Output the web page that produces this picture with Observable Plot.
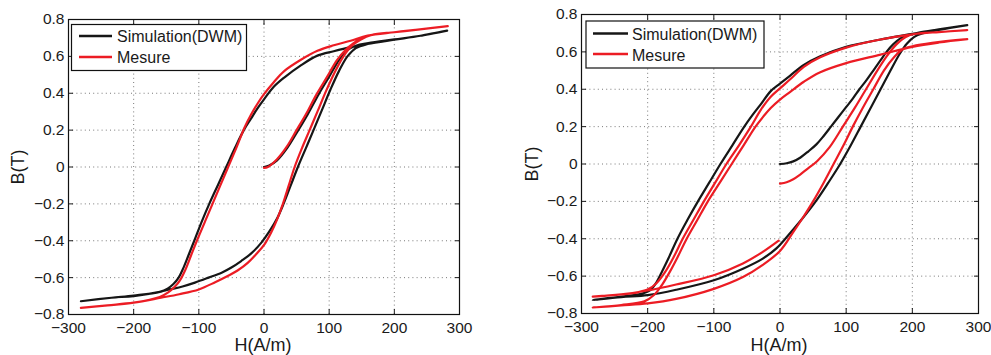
<!DOCTYPE html>
<html><head><meta charset="utf-8">
<script src="https://cdn.jsdelivr.net/npm/d3@7"></script>
<script src="https://cdn.jsdelivr.net/npm/@observablehq/plot@0.6"></script>
<style>
body{margin:0;background:#fff;}
#wrap{position:relative;width:991px;height:355px;overflow:hidden;background:#fff;}
#wrap svg.p{position:absolute;top:0;}
#overlay{position:absolute;left:0;top:0;pointer-events:none;}
</style>
</head><body>
<div id="wrap"></div>
<script>
const xTicks = [-300, -200, -100, 0, 100, 200, 300];
const yTicks = [-0.8, -0.6, -0.4, -0.2, 0, 0.2, 0.4, 0.6, 0.8];
const seriesNames = ["Simulation(DWM)", "Mesure"];
const xLabel = "H(A/m)";
const yLabel = "B(T)";

// Left panel — simulation: initial curve, descending branch, ascending branch
const leftSimH = [0, 8, 20, 36, 51, 67, 84, 100, 115, 128, 141, 160, 200, 240, 281,
  240, 200, 159, 133, 107, 82, 56, 31, 15, 0, -10, -20, -31, -45, -58, -71, -84, -96, -107, -116, -124, -131, -139, -148, -160, -200, -234, -281,
  -234, -200, -158, -147, -125, -106, -85, -65, -50, -35, -20, -4, 10, 20, 30, 41, 52, 64, 76, 89, 102, 115, 128, 141, 159, 200, 240, 281];
const leftSimB = [0, 0.008, 0.036, 0.105, 0.19, 0.285, 0.395, 0.49, 0.58, 0.635, 0.658, 0.672, 0.692, 0.712, 0.74,
  0.712, 0.69, 0.667, 0.65, 0.628, 0.604, 0.55, 0.485, 0.435, 0.367, 0.318, 0.262, 0.2, 0.1, 0, -0.1, -0.2, -0.3, -0.4, -0.48, -0.55, -0.6, -0.635, -0.66, -0.677, -0.697, -0.709, -0.728,
  -0.709, -0.7, -0.676, -0.666, -0.648, -0.627, -0.6, -0.573, -0.545, -0.51, -0.47, -0.41, -0.34, -0.28, -0.2, -0.1, 0, 0.1, 0.2, 0.31, 0.42, 0.52, 0.6, 0.645, 0.667, 0.69, 0.712, 0.74];

// Left panel — measurement
const leftMesH = [0, 6, 20, 35, 50, 65, 80, 97, 112, 125, 136, 150, 165, 200, 236, 282,
  236, 200, 159, 133, 107, 82, 56, 31, 15, 0, -10, -20, -30, -42, -55, -67, -79, -91, -103, -112, -121, -129, -137, -147, -160, -200, -240, -281,
  -240, -200, -158, -130, -100, -75, -55, -40, -25, -10, 1, 11, 20, 29, 38, 47, 58, 70, 82, 95, 108, 121, 134, 148, 165, 200, 236, 282];
const leftMesB = [-0.005, 0, 0.042, 0.11, 0.2, 0.29, 0.39, 0.49, 0.58, 0.635, 0.668, 0.698, 0.716, 0.731, 0.745, 0.764,
  0.745, 0.731, 0.713, 0.685, 0.66, 0.63, 0.58, 0.52, 0.46, 0.395, 0.343, 0.283, 0.213, 0.108, 0, -0.1, -0.2, -0.3, -0.4, -0.48, -0.56, -0.615, -0.65, -0.68, -0.705, -0.736, -0.75, -0.764,
  -0.75, -0.736, -0.709, -0.69, -0.664, -0.625, -0.59, -0.56, -0.52, -0.465, -0.418, -0.355, -0.285, -0.2, -0.1, 0, 0.1, 0.2, 0.3, 0.41, 0.51, 0.595, 0.655, 0.69, 0.716, 0.731, 0.745, 0.764];

// Right panel — simulation
const rightSimH = [0, 10, 20, 31, 43, 55, 66, 77, 88, 99, 110, 120, 131, 141, 151, 161, 171, 182, 195, 210, 240, 283,
  240, 200, 150, 100, 60, 36, 15, 0, -14, -30, -42, -54, -72, -90, -107, -124, -140, -155, -168, -179, -188, -196, -210, -240, -283,
  -240, -200, -157, -100, -56, -26, -5, 8, 32, 54, 73, 91, 107, 122, 137, 152, 167, 181, 192, 203, 215, 240, 283];
const rightSimB = [0, 0.004, 0.014, 0.035, 0.068, 0.105, 0.15, 0.2, 0.25, 0.3, 0.35, 0.4, 0.45, 0.5, 0.55, 0.6, 0.64, 0.672, 0.69, 0.703, 0.72, 0.743,
  0.72, 0.696, 0.665, 0.627, 0.575, 0.53, 0.472, 0.43, 0.39, 0.315, 0.26, 0.2, 0.1, 0, -0.1, -0.2, -0.3, -0.4, -0.5, -0.58, -0.64, -0.675, -0.695, -0.71, -0.728,
  -0.712, -0.702, -0.673, -0.622, -0.56, -0.506, -0.45, -0.4, -0.3, -0.2, -0.1, 0, 0.1, 0.2, 0.3, 0.4, 0.5, 0.59, 0.645, 0.68, 0.698, 0.717, 0.743];

// Right panel — measurement (two recorded segments, seg 0 and seg 1)
const rightMesH = [0, 10, 20, 30, 40, 56, 75, 95, 113, 130, 147, 162, 176, 190, 205, 240, 283,
  240, 200, 150, 100, 60, 36, 15, 0, -14, -29, -44, -62, -81, -98, -115, -131, -147, -161, -174, -186, -198, -215, -240, -283,
  -240, -200, -157, -100, -56, -26, -2,
  283, 240, 200, 152, 100, 60, 36, 15, 0, -14, -25, -37, -55, -73, -91, -109, -125, -141, -155, -167, -178, -190, -205, -240, -283,
  -240, -200, -157, -100, -56, -26, 0, 19, 35, 50, 66, 81, 96, 110, 125, 141, 157, 172, 186, 200, 230, 283];
const rightMesB = [-0.105, -0.098, -0.082, -0.058, -0.03, 0.015, 0.09, 0.2, 0.3, 0.4, 0.5, 0.58, 0.64, 0.68, 0.697, 0.706, 0.716,
  0.706, 0.694, 0.665, 0.623, 0.57, 0.52, 0.452, 0.405, 0.36, 0.29, 0.2, 0.1, 0, -0.1, -0.2, -0.3, -0.4, -0.5, -0.58, -0.635, -0.668, -0.687, -0.698, -0.71,
  -0.698, -0.677, -0.645, -0.595, -0.532, -0.47, -0.41,
  0.668, 0.65, 0.627, 0.585, 0.54, 0.49, 0.44, 0.385, 0.345, 0.3, 0.255, 0.2, 0.1, 0, -0.1, -0.2, -0.3, -0.4, -0.5, -0.58, -0.645, -0.7, -0.735, -0.755, -0.768,
  -0.757, -0.746, -0.722, -0.668, -0.605, -0.54, -0.465, -0.37, -0.285, -0.2, -0.1, 0, 0.1, 0.2, 0.3, 0.4, 0.5, 0.57, 0.615, 0.63, 0.648, 0.668];
const rightMesSeg = [
  ...Array(17).fill(0), ...Array(24).fill(0), ...Array(7).fill(0),
  ...Array(25).fill(1), ...Array(22).fill(1)];

const simColor = "#161616";
const mesColor = "#ec1c24";
const FONT = "'Liberation Sans', Arial, Helvetica, sans-serif";

const toRows = (H, B, S) => H.map((h, i) => ({H: h, B: B[i], seg: S ? S[i] : 0}));
const yFmt = d => (d === 0 ? "0" : d3.format(".1f")(d));
const xFmt = d => d3.format("d")(d);

function panel({left, width, marginLeft, marginRight, marginTop, marginBottom, simH, simB, mesH, mesB, mesSeg}) {
  const grid = {stroke: "#6a6a6a", strokeOpacity: 1, strokeWidth: 0.9, strokeDasharray: "1,3.2"};
  const svg = Plot.plot({
    width, height: 355, marginLeft, marginRight, marginTop, marginBottom,
    x: {domain: [-300, 300]},
    y: {domain: [-0.8, 0.8]},
    style: {fontSize: "15.5px", fontFamily: FONT, color: "#1a1a1a", background: "transparent", overflow: "visible"},
    marks: [
      Plot.gridX(xTicks, grid),
      Plot.gridY(yTicks, grid),
      Plot.line(toRows(simH, simB), {x: "H", y: "B", stroke: simColor, strokeWidth: 2.2, curve: "catmull-rom"}),
      Plot.line(toRows(mesH, mesB, mesSeg), {x: "H", y: "B", z: "seg", stroke: mesColor, strokeWidth: 2.2, curve: "catmull-rom"}),
      Plot.axisX(xTicks, {anchor: "bottom", tickSize: -5, tickPadding: 12, tickFormat: xFmt, label: null}),
      Plot.axisX(xTicks, {anchor: "top", tickSize: -5, tickFormat: () => "", label: null}),
      Plot.axisY(yTicks, {anchor: "left", tickSize: -5, tickPadding: 9, tickFormat: yFmt, label: null}),
      Plot.axisY(yTicks, {anchor: "right", tickSize: -5, tickFormat: () => "", label: null}),
      Plot.frame({stroke: "#111", strokeWidth: 1.2})
    ]
  });
  svg.classList.add("p");
  svg.style.left = left + "px";
  return svg;
}

const wrap = document.getElementById("wrap");
wrap.appendChild(panel({left: 0, width: 495, marginLeft: 68, marginRight: 36, marginTop: 19, marginBottom: 41,
  simH: leftSimH, simB: leftSimB, mesH: leftMesH, mesB: leftMesB, mesSeg: null}));
wrap.appendChild(panel({left: 495, width: 496, marginLeft: 86, marginRight: 13, marginTop: 14, marginBottom: 42,
  simH: rightSimH, simB: rightSimB, mesH: rightMesH, mesB: rightMesB, mesSeg: rightMesSeg}));

// Overlay: axis titles and legends
const ov = d3.select(wrap).append("svg").attr("id", "overlay").attr("width", 991).attr("height", 355)
  .style("font-family", FONT).style("fill", "#1a1a1a");

const labels = [
  {xl: 263, xb: 351, yx: 24, yy: 167},
  {xl: 779, xb: 351, yx: 537.5, yy: 164}
];
labels.forEach(l => {
  ov.append("text").attr("x", l.xl).attr("y", l.xb).attr("text-anchor", "middle").style("font-size", "18px").text(xLabel);
  ov.append("text").attr("transform", `translate(${l.yx},${l.yy}) rotate(-90)`).attr("text-anchor", "middle").style("font-size", "18px").text(yLabel);
});

const legends = [
  {x: 71.5, y: 24.5, w: 175, h: 46, lx1: 79, lx2: 112, ly: [36, 57], tx: 117, tb: [42, 63]},
  {x: 586, y: 21, w: 178, h: 47, lx1: 593, lx2: 628, ly: [33.5, 54], tx: 632, tb: [40, 61]}
];
legends.forEach(g => {
  ov.append("rect").attr("x", g.x).attr("y", g.y).attr("width", g.w).attr("height", g.h)
    .attr("fill", "#fff").attr("stroke", "#111").attr("stroke-width", 1.2);
  [simColor, mesColor].forEach((c, i) => {
    ov.append("line").attr("x1", g.lx1).attr("x2", g.lx2).attr("y1", g.ly[i]).attr("y2", g.ly[i])
      .attr("stroke", c).attr("stroke-width", 2.4);
    ov.append("text").attr("x", g.tx).attr("y", g.tb[i]).style("font-size", "16px").text(seriesNames[i]);
  });
});
</script>
</body></html>
